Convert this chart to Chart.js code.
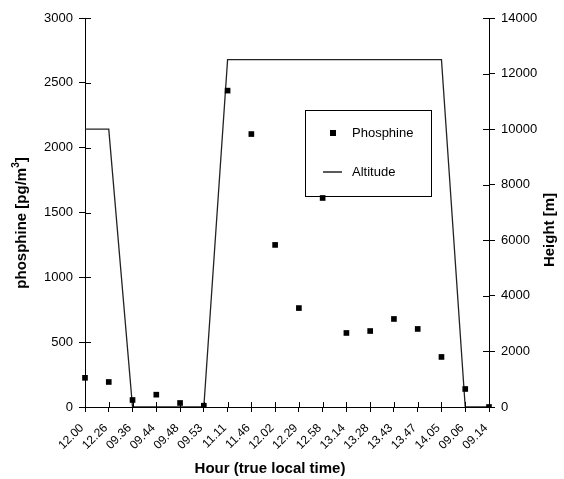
<!DOCTYPE html>
<html>
<head>
<meta charset="utf-8">
<script src="https://cdn.jsdelivr.net/npm/chart.js@4.4.1/dist/chart.umd.min.js"></script>
<style>
  body { margin: 0; background: #fff; }
</style>
</head>
<body>
<canvas id="myChart" width="564" height="479"></canvas>
<script>
const hours = ["12.00", "12.26", "09.36", "09.44", "09.48", "09.53", "11.11", "11.46", "12.02",
  "12.29", "12.58", "13.14", "13.28", "13.43", "13.47", "14.05", "09.06", "09.14"];
const phosphine = [225, 193, 54, 95, 31, 10, 2440, 2105, 1250, 763, 1612, 571, 586, 679, 602, 386, 139, 0];
const altitude = [10000, 10000, 0, 0, 0, 0, 12500, 12500, 12500, 12500, 12500, 12500, 12500, 12500, 12500, 12500, 0, 0];

const FONT = '"Liberation Sans", Arial, sans-serif';
Chart.defaults.font.family = FONT;
Chart.defaults.color = "#000";

// titles, inner tick halves and the boxed legend
const extras = {
  id: "extras",
  afterDraw(chart) {
    const ctx = chart.ctx;
    ctx.save();
    ctx.strokeStyle = "#000";
    ctx.lineWidth = 1;
    // inner halves of the tick marks
    const x = chart.scales.x, yl = chart.scales.y, yr = chart.scales.y2;
    ctx.beginPath();
    x.ticks.forEach((t, i) => {
      const px = Math.round(x.getPixelForTick(i)) + 0.5;
      ctx.moveTo(px, x.top);
      ctx.lineTo(px, x.top - 5);
    });
    yl.ticks.forEach((t, i) => {
      const py = Math.round(yl.getPixelForTick(i)) + 0.5;
      ctx.moveTo(yl.right, py);
      ctx.lineTo(yl.right + 6, py);
    });
    yr.ticks.forEach((t, i) => {
      const py = Math.round(yr.getPixelForTick(i)) + 0.5;
      ctx.moveTo(yr.left, py);
      ctx.lineTo(yr.left - 6, py);
    });
    ctx.stroke();

    // axis titles
    ctx.fillStyle = "#000";
    ctx.font = "bold 15px " + FONT;
    ctx.textAlign = "center";
    ctx.textBaseline = "middle";
    ctx.fillText("Hour (true local time)", 270, 469);

    ctx.save();
    ctx.translate(22, 223);
    ctx.rotate(-Math.PI / 2);
    const main = "phosphine [pg/m";
    const wMain = ctx.measureText(main).width;
    ctx.font = "bold 10px " + FONT;
    const wSup = ctx.measureText("3").width;
    ctx.font = "bold 15px " + FONT;
    const wEnd = ctx.measureText("]").width;
    let sx = -(wMain + wSup + wEnd) / 2;
    ctx.textAlign = "left";
    ctx.fillText(main, sx, 0);
    sx += wMain;
    ctx.font = "bold 10px " + FONT;
    ctx.fillText("3", sx, -6);
    sx += wSup;
    ctx.font = "bold 15px " + FONT;
    ctx.fillText("]", sx, 0);
    ctx.restore();

    ctx.save();
    ctx.textAlign = "center";
    ctx.translate(550, 230);
    ctx.rotate(-Math.PI / 2);
    ctx.fillText("Height [m]", 0, 0);
    ctx.restore();

    // legend
    ctx.strokeRect(305.5, 110.5, 126, 86);
    ctx.fillRect(330, 130, 6, 6);
    ctx.beginPath();
    ctx.lineWidth = 1.3;
    ctx.moveTo(323, 172);
    ctx.lineTo(342, 172);
    ctx.stroke();
    ctx.font = "13px " + FONT;
    ctx.textAlign = "left";
    ctx.fillText("Phosphine", 352, 133);
    ctx.fillText("Altitude", 352, 172);
    ctx.restore();
  }
};

const plain = (v) => String(v);

const ctx = document.querySelector("#myChart").getContext("2d");
const chart = new Chart(ctx, {
  type: "line",
  data: {
    labels: hours,
    datasets: [
      {
        label: "Phosphine",
        data: phosphine,
        yAxisID: "y",
        showLine: false,
        pointStyle: "rect",
        pointRadius: 4,
        pointHoverRadius: 4,
        pointBackgroundColor: "#000",
        pointBorderColor: "#000",
        pointBorderWidth: 0,
      },
      {
        label: "Altitude",
        data: altitude,
        yAxisID: "y2",
        borderColor: "#222",
        borderWidth: 1.3,
        pointRadius: 0,
        tension: 0,
        fill: false,
      },
    ],
  },
  options: {
    responsive: false,
    animation: false,
    events: [],
    layout: { padding: { top: 18, left: 0, right: 0, bottom: 0 } },
    plugins: {
      legend: { display: false },
      tooltip: { enabled: false },
    },
    scales: {
      x: {
        type: "category",
        offset: false,
        afterFit: (s) => { s.height = 72; },
        grid: { drawOnChartArea: false, tickLength: 5, color: "#000" },
        border: { color: "#000", width: 1 },
        ticks: {
          autoSkip: false,
          maxRotation: 45,
          minRotation: 45,
          padding: 9,
          labelOffset: -3,
          font: { size: 12 },
        },
      },
      y: {
        position: "left",
        min: 0,
        max: 3000,
        afterFit: (s) => { s.width = 85; },
        grid: { drawOnChartArea: false, tickLength: 6, color: "#000" },
        border: { color: "#000", width: 1 },
        ticks: { stepSize: 500, padding: 6, font: { size: 13 }, callback: plain },
      },
      y2: {
        position: "right",
        min: 0,
        max: 14000,
        afterFit: (s) => { s.width = 75; },
        grid: { drawOnChartArea: false, tickLength: 6, color: "#000" },
        border: { color: "#000", width: 1 },
        ticks: { stepSize: 2000, padding: 6, font: { size: 13 }, callback: plain },
      },
    },
  },
  plugins: [extras],
});
</script>
</body>
</html>
